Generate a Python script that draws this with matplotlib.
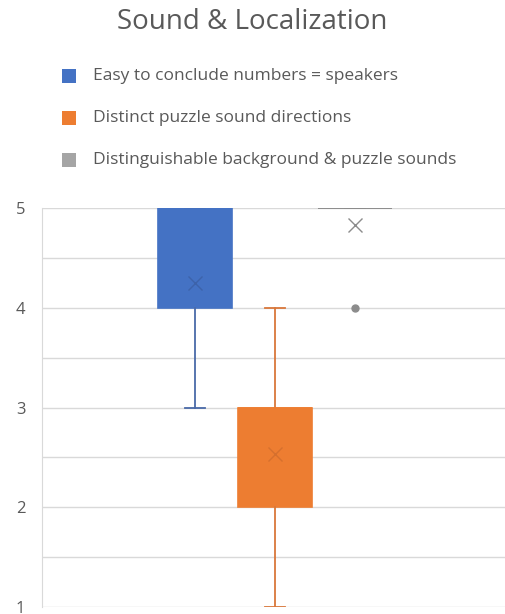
import matplotlib
matplotlib.use("Agg")
import matplotlib.pyplot as plt
from matplotlib.patches import Rectangle

# box statistics (scale 1-5)
LABELS = ["Easy to conclude numbers = speakers",
          "Distinct puzzle sound directions",
          "Distinguishable background & puzzle sounds"]
Q1 = [4, 2, 5]
Q3 = [5, 3, 5]
MED = [5, 3, 5]
WHISK_LO = [3, 1, 5]
WHISK_HI = [5, 4, 5]
MEAN = [4.25, 2.53, 4.83]
FLIERS = [[], [], [4]]

COLORS = ["#4472C4", "#ED7D31", "#A5A5A5"]
EDGE = ["#4A6AA8", "#D9773A", "#8C8C8C"]
MEAN_C = ["#3D63AA", "#D5702E", "#8C8C8C"]
TXT = "#595959"

plt.rcParams["font.family"] = ["Open Sans", "DejaVu Sans"]

fig = plt.figure(figsize=(5.05, 6.14), dpi=100)
ax = fig.add_axes([42 / 505, 7 / 614, 1 - 42 / 505, (607 - 208) / 614])

for i in range(3):
    st = dict(med=MED[i], q1=Q1[i], q3=Q3[i], whislo=WHISK_LO[i],
              whishi=WHISK_HI[i], mean=MEAN[i], fliers=FLIERS[i])
    flat = Q1[i] == Q3[i]
    ax.bxp([st], positions=[i], widths=0.925, patch_artist=True,
           showmeans=True, showcaps=True, showfliers=True,
           boxprops=dict(facecolor=COLORS[i], edgecolor=EDGE[i] if flat else COLORS[i], linewidth=1.2),
           medianprops=dict(color=EDGE[i] if flat else COLORS[i], linewidth=1.2),
           whiskerprops=dict(color=EDGE[i], linewidth=1.3),
           capprops=dict(color=EDGE[i], linewidth=1.3),
           capwidths=0.25,
           meanprops=dict(marker="x", markersize=10, markeredgecolor=MEAN_C[i], markeredgewidth=1.0),
           flierprops=dict(marker="o", markersize=5, markerfacecolor="#8C8C8C", markeredgecolor="#8C8C8C"))

ax.set_ylim(1, 5)
ax.set_xlim(-1.91, 3.875)
ax.set_yticks([1, 2, 3, 4, 5])
ax.set_yticks([1.5, 2.5, 3.5, 4.5], minor=True)
ax.grid(True, axis="y", which="both", color="#D9D9D9", linewidth=1.0)
ax.set_axisbelow(True)
ax.set_xticks([])
for s in ["top", "right", "bottom"]:
    ax.spines[s].set_visible(False)
ax.spines["left"].set_color("#D9D9D9")
ax.tick_params(axis="y", which="both", length=0, labelsize=12, labelcolor=TXT, pad=12)

fig.text(0.5, 1 - 22 / 614, "Sound & Localization", ha="center", va="center",
         fontsize=20, color=TXT)

for i, lab in enumerate(LABELS):
    yc = 76 + 42 * i
    fig.add_artist(Rectangle((62 / 505, 1 - (yc + 7) / 614), 14 / 505, 14 / 614,
                             transform=fig.transFigure, facecolor=COLORS[i], edgecolor="none"))
    fig.text(93 / 505, 1 - yc / 614, lab, ha="left", va="center", fontsize=12.5, color=TXT)

fig.savefig("out.png", dpi=100, facecolor="white")
